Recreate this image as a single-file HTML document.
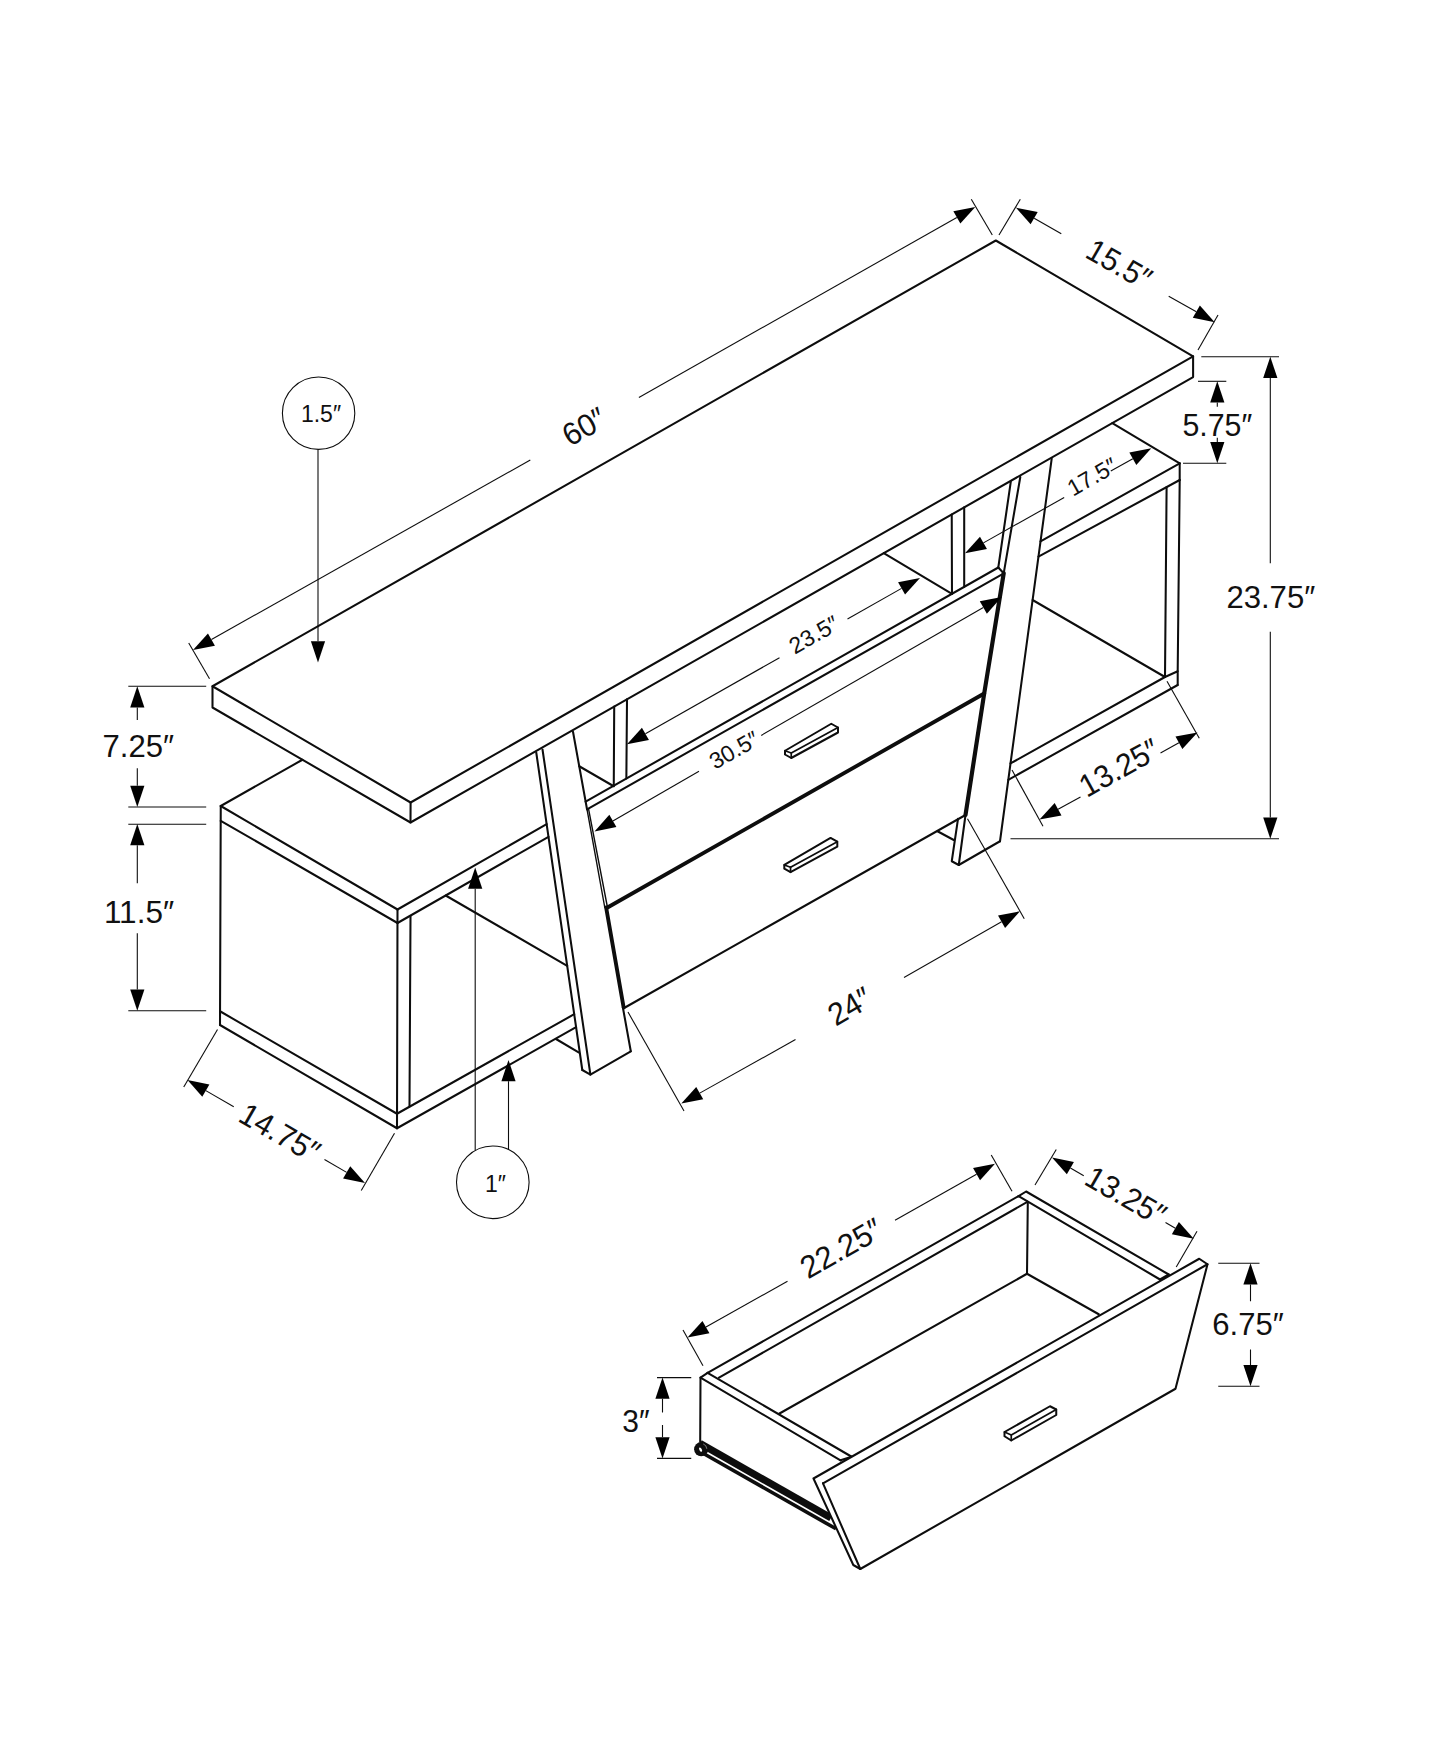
<!DOCTYPE html>
<html><head><meta charset="utf-8"><title>Dimensions</title>
<style>
html,body{margin:0;padding:0;background:#fff;}
body{width:1445px;height:1755px;overflow:hidden;}
svg{display:block;}
svg text{font-family:"Liberation Sans",sans-serif;fill:#111;stroke:none;}
</style></head><body>
<svg width="1445" height="1755" viewBox="0 0 1445 1755" fill="none" stroke="#0d0d0d">
<rect x="0" y="0" width="1445" height="1755" fill="#fff" stroke="none"/>
<path d="M212.5 686.25 L995.8 240.5 L1193.1 356.3 L410.6 802.5 Z" stroke-width="2.05" stroke-linejoin="round" stroke-linecap="round"/>
<path d="M212.5 686.25 L212.5 707.5 L410.5 822.5 L1193.1 377.1 L1193.1 356.3" stroke-width="2.05" stroke-linejoin="round" stroke-linecap="round"/>
<line x1="410.6" y1="802.5" x2="410.5" y2="822.5" stroke-width="2.05" stroke-linecap="round"/>
<line x1="536.25" y1="752.5" x2="582.3" y2="1070" stroke-width="2.05" stroke-linecap="round"/>
<line x1="542.5" y1="749.5" x2="590.4" y2="1074.6" stroke-width="2.05" stroke-linecap="round"/>
<path d="M582.3 1070 L590.4 1074.6 L630.8 1051.3" stroke-width="2.05" stroke-linejoin="round" stroke-linecap="round"/>
<line x1="220.75" y1="806" x2="302.45" y2="759.74" stroke-width="2.05" stroke-linecap="round"/>
<line x1="220.75" y1="806" x2="397.5" y2="909.5" stroke-width="2.05" stroke-linecap="round"/>
<line x1="220.75" y1="820.8" x2="397.5" y2="923" stroke-width="2.05" stroke-linecap="round"/>
<line x1="220.75" y1="806" x2="220" y2="1025" stroke-width="2.05" stroke-linecap="round"/>
<line x1="220" y1="1011.25" x2="397" y2="1113.75" stroke-width="2.05" stroke-linecap="round"/>
<line x1="220" y1="1025" x2="397" y2="1128.25" stroke-width="2.05" stroke-linecap="round"/>
<line x1="397.5" y1="909.5" x2="397" y2="1128.25" stroke-width="2.05" stroke-linecap="round"/>
<line x1="397.5" y1="909.5" x2="546.64" y2="824.13" stroke-width="2.05" stroke-linecap="round"/>
<line x1="397.5" y1="923" x2="548.48" y2="836.84" stroke-width="2.05" stroke-linecap="round"/>
<line x1="410.5" y1="916" x2="409.5" y2="1106.5" stroke-width="2.05" stroke-linecap="round"/>
<line x1="445.7" y1="895.5" x2="567.19" y2="965.8" stroke-width="2.05" stroke-linecap="round"/>
<line x1="397" y1="1113.75" x2="574.21" y2="1014.21" stroke-width="2.05" stroke-linecap="round"/>
<line x1="397" y1="1128.25" x2="576.08" y2="1027.14" stroke-width="2.05" stroke-linecap="round"/>
<line x1="556" y1="1039" x2="578.6" y2="1052.3" stroke-width="2.05" stroke-linecap="round"/>
<line x1="585.65" y1="801.67" x2="998.3" y2="567.5" stroke-width="2.05" stroke-linecap="round"/>
<line x1="587.03" y1="809.3" x2="1002.5" y2="574.2" stroke-width="2.05" stroke-linecap="round"/>
<line x1="998.3" y1="567.5" x2="1003.7" y2="573.3" stroke-width="2.05" stroke-linecap="round"/>
<line x1="607.5" y1="907.5" x2="984.2" y2="693.5" stroke-width="3.8" stroke-linecap="round"/>
<line x1="625" y1="1007.5" x2="965.5" y2="815" stroke-width="2.05" stroke-linecap="round"/>
<line x1="573" y1="731.75" x2="587.03" y2="809.3" stroke-width="2.05" stroke-linecap="round"/>
<line x1="587.03" y1="809.3" x2="604.79" y2="907.5" stroke-width="1.4" stroke-linecap="round"/>
<line x1="588.63" y1="809.3" x2="607.5" y2="907.5" stroke-width="1.4" stroke-linecap="round"/>
<line x1="606.14" y1="907.5" x2="623.64" y2="1007.5" stroke-width="3.9" stroke-linecap="round"/>
<line x1="622.88" y1="1007.5" x2="630.8" y2="1051.3" stroke-width="2.05" stroke-linecap="round"/>
<path d="M1003.7 573.3 L984.2 693.5 L965.5 815" stroke-width="4.2" stroke-linejoin="round" stroke-linecap="round"/>
<line x1="1010.8" y1="481.7" x2="998.3" y2="567.5" stroke-width="2.05" stroke-linecap="round"/>
<line x1="1020.3" y1="477" x2="1003.7" y2="573.3" stroke-width="2.05" stroke-linecap="round"/>
<line x1="1051.7" y1="458.7" x2="1000" y2="841.25" stroke-width="2.05" stroke-linecap="round"/>
<line x1="965.5" y1="815" x2="958.75" y2="865" stroke-width="2.05" stroke-linecap="round"/>
<path d="M958 818.9 L951.75 861.25 L958.75 865 L1000 841.25" stroke-width="2.05" stroke-linejoin="round" stroke-linecap="round"/>
<line x1="937.5" y1="831.25" x2="953.75" y2="840" stroke-width="2.05" stroke-linecap="round"/>
<line x1="614.21" y1="706.56" x2="613.77" y2="785.71" stroke-width="2.05" stroke-linecap="round"/>
<line x1="627.01" y1="699.28" x2="626.35" y2="778.57" stroke-width="2.05" stroke-linecap="round"/>
<line x1="579.24" y1="766.25" x2="613.77" y2="786.26" stroke-width="2.05" stroke-linecap="round"/>
<line x1="951.74" y1="514.46" x2="951.98" y2="593.78" stroke-width="2.05" stroke-linecap="round"/>
<line x1="964.2" y1="507.37" x2="964.2" y2="586.85" stroke-width="2.05" stroke-linecap="round"/>
<line x1="883.75" y1="553.16" x2="951.98" y2="593.94" stroke-width="2.05" stroke-linecap="round"/>
<line x1="1112.3" y1="423.09" x2="1179.7" y2="463.3" stroke-width="2.05" stroke-linecap="round"/>
<line x1="1179.7" y1="463.3" x2="1179.7" y2="480" stroke-width="2.05" stroke-linecap="round"/>
<line x1="1179.7" y1="463.3" x2="1040.52" y2="541.41" stroke-width="2.05" stroke-linecap="round"/>
<line x1="1179.7" y1="480" x2="1038.47" y2="556.61" stroke-width="2.05" stroke-linecap="round"/>
<line x1="1179.7" y1="480" x2="1177.7" y2="671.25" stroke-width="2.05" stroke-linecap="round"/>
<line x1="1166.6" y1="487.11" x2="1165" y2="677" stroke-width="2.05" stroke-linecap="round"/>
<path d="M1165 677 L1177.7 671.25 L1177.7 685" stroke-width="2.05" stroke-linejoin="round" stroke-linecap="round"/>
<line x1="1165" y1="677" x2="1010.51" y2="763.46" stroke-width="2.05" stroke-linecap="round"/>
<line x1="1177.7" y1="685" x2="1008.3" y2="779.83" stroke-width="2.05" stroke-linecap="round"/>
<line x1="1032.6" y1="600" x2="1165" y2="677" stroke-width="2.05" stroke-linecap="round"/>
<path d="M785 750.75 L831.25 723.75 L838 727.5 L838 732.5 L791.25 758 L785 754.5 Z" stroke-width="2" stroke-linejoin="round" stroke-linecap="round"/>
<path d="M785 750.75 L791.25 753 L838 727.5" stroke-width="1.7" stroke-linejoin="round" stroke-linecap="round"/>
<line x1="791.25" y1="753" x2="791.25" y2="758" stroke-width="1.7" stroke-linecap="round"/>
<path d="M784.3 864.95 L830.55 837.95 L837.3 841.7 L837.3 846.7 L790.55 872.2 L784.3 868.7 Z" stroke-width="2" stroke-linejoin="round" stroke-linecap="round"/>
<path d="M784.3 864.95 L790.55 867.2 L837.3 841.7" stroke-width="1.7" stroke-linejoin="round" stroke-linecap="round"/>
<line x1="790.55" y1="867.2" x2="790.55" y2="872.2" stroke-width="1.7" stroke-linecap="round"/>
<polygon points="193,650 207.95,633.38 214.95,645.73" fill="#000" stroke="none"/>
<polygon points="975.3,207 960.35,223.62 953.35,211.27" fill="#000" stroke="none"/>
<line x1="211.45" y1="639.55" x2="530.3" y2="460" stroke-width="1.1" stroke-linecap="butt"/>
<line x1="638.9" y1="397.6" x2="956.85" y2="217.45" stroke-width="1.1" stroke-linecap="butt"/>
<line x1="188.75" y1="643" x2="209.5" y2="678.75" stroke-width="1.1" stroke-linecap="butt"/>
<line x1="971.3" y1="199.3" x2="992.3" y2="235" stroke-width="1.1" stroke-linecap="butt"/>
<text x="584" y="437.48" font-size="31.5" text-anchor="middle" textLength="44.6" lengthAdjust="spacingAndGlyphs" transform="rotate(-29.5 584 426.3)">60″</text>
<polygon points="1015.8,207.6 1037.71,212.04 1030.62,224.34" fill="#000" stroke="none"/>
<polygon points="1214.7,322.3 1192.79,317.86 1199.88,305.56" fill="#000" stroke="none"/>
<line x1="1034.17" y1="218.19" x2="1061.3" y2="233.8" stroke-width="1.1" stroke-linecap="butt"/>
<line x1="1168.7" y1="296.2" x2="1196.33" y2="311.71" stroke-width="1.1" stroke-linecap="butt"/>
<line x1="1020.3" y1="199.3" x2="999" y2="235" stroke-width="1.1" stroke-linecap="butt"/>
<line x1="1218" y1="315" x2="1198" y2="350" stroke-width="1.1" stroke-linecap="butt"/>
<text x="1119.3" y="275.18" font-size="31.5" text-anchor="middle" textLength="69" lengthAdjust="spacingAndGlyphs" transform="rotate(30 1119.3 264)">15.5″</text>
<circle cx="318.6" cy="413.2" r="36.2" stroke-width="1.1"/>
<text x="321" y="422.17" font-size="23" text-anchor="middle">1.5″</text>
<polygon points="318,662.5 310.9,641.3 325.1,641.3" fill="#000" stroke="none"/>
<line x1="318" y1="449.4" x2="318" y2="641.3" stroke-width="1.1" stroke-linecap="butt"/>
<circle cx="492.8" cy="1182.3" r="36.3" stroke-width="1.1"/>
<text x="495.5" y="1191.66" font-size="23" text-anchor="middle">1″</text>
<polygon points="475.2,867.5 482.3,888.7 468.1,888.7" fill="#000" stroke="none"/>
<line x1="475.2" y1="888.7" x2="475.2" y2="1150.5" stroke-width="1.1" stroke-linecap="butt"/>
<polygon points="508.5,1060 515.6,1081.2 501.4,1081.2" fill="#000" stroke="none"/>
<line x1="508.5" y1="1081.2" x2="508.5" y2="1149.8" stroke-width="1.1" stroke-linecap="butt"/>
<line x1="128.3" y1="686.3" x2="206.2" y2="686.3" stroke-width="1.1" stroke-linecap="butt"/>
<line x1="128.3" y1="807" x2="206.2" y2="807" stroke-width="1.1" stroke-linecap="butt"/>
<line x1="128.3" y1="824.2" x2="206.2" y2="824.2" stroke-width="1.1" stroke-linecap="butt"/>
<line x1="128.3" y1="1010.8" x2="206.2" y2="1010.8" stroke-width="1.1" stroke-linecap="butt"/>
<polygon points="137.3,686.2 144.4,707.4 130.2,707.4" fill="#000" stroke="none"/>
<line x1="137.3" y1="707.4" x2="137.3" y2="720" stroke-width="1.1" stroke-linecap="butt"/>
<polygon points="137.3,807 130.2,785.8 144.4,785.8" fill="#000" stroke="none"/>
<line x1="137.3" y1="768.3" x2="137.3" y2="785.8" stroke-width="1.1" stroke-linecap="butt"/>
<text x="138.3" y="756.98" font-size="31.5" text-anchor="middle" textLength="71.5" lengthAdjust="spacingAndGlyphs">7.25″</text>
<polygon points="137.3,824.1 144.4,845.3 130.2,845.3" fill="#000" stroke="none"/>
<line x1="137.3" y1="845.3" x2="137.3" y2="883.3" stroke-width="1.1" stroke-linecap="butt"/>
<polygon points="137.3,1010.8 130.2,989.6 144.4,989.6" fill="#000" stroke="none"/>
<line x1="137.3" y1="933.3" x2="137.3" y2="989.6" stroke-width="1.1" stroke-linecap="butt"/>
<text x="139" y="922.68" font-size="31.5" text-anchor="middle">11.5″</text>
<polygon points="187.5,1080 209.4,1084.5 202.27,1096.78" fill="#000" stroke="none"/>
<polygon points="365,1183 343.1,1178.5 350.23,1166.22" fill="#000" stroke="none"/>
<line x1="205.84" y1="1090.64" x2="233.75" y2="1106.8" stroke-width="1.1" stroke-linecap="butt"/>
<line x1="324.5" y1="1159.5" x2="346.66" y2="1172.36" stroke-width="1.1" stroke-linecap="butt"/>
<line x1="217.5" y1="1029.5" x2="183.75" y2="1087" stroke-width="1.1" stroke-linecap="butt"/>
<line x1="394.5" y1="1133.25" x2="361.25" y2="1190.5" stroke-width="1.1" stroke-linecap="butt"/>
<text x="280" y="1143.68" font-size="31.5" text-anchor="middle" textLength="87" lengthAdjust="spacingAndGlyphs" transform="rotate(30 280 1132.5)">14.75″</text>
<polygon points="681.3,1103.6 696.23,1086.96 703.24,1099.3" fill="#000" stroke="none"/>
<polygon points="1020,911.25 1005.07,927.89 998.06,915.55" fill="#000" stroke="none"/>
<line x1="699.73" y1="1093.13" x2="795.5" y2="1039.5" stroke-width="1.1" stroke-linecap="butt"/>
<line x1="904" y1="977.5" x2="1001.57" y2="921.72" stroke-width="1.1" stroke-linecap="butt"/>
<line x1="628" y1="1012" x2="684" y2="1111" stroke-width="1.1" stroke-linecap="butt"/>
<line x1="967.5" y1="818.75" x2="1024.25" y2="918.75" stroke-width="1.1" stroke-linecap="butt"/>
<text x="849.5" y="1017.18" font-size="31.5" text-anchor="middle" textLength="44.6" lengthAdjust="spacingAndGlyphs" transform="rotate(-29.8 849.5 1006)">24″</text>
<polygon points="1039.5,819.5 1054.65,803.05 1061.5,815.49" fill="#000" stroke="none"/>
<polygon points="1197.5,732.5 1182.35,748.95 1175.5,736.51" fill="#000" stroke="none"/>
<line x1="1058.07" y1="809.27" x2="1080.5" y2="796.9" stroke-width="1.1" stroke-linecap="butt"/>
<line x1="1160.5" y1="752.9" x2="1178.93" y2="742.73" stroke-width="1.1" stroke-linecap="butt"/>
<line x1="1012" y1="770" x2="1043" y2="826.25" stroke-width="1.1" stroke-linecap="butt"/>
<line x1="1167" y1="681.25" x2="1199.25" y2="738.25" stroke-width="1.1" stroke-linecap="butt"/>
<text x="1119" y="778.48" font-size="31.5" text-anchor="middle" textLength="86" lengthAdjust="spacingAndGlyphs" transform="rotate(-29 1119 767.3)">13.25″</text>
<line x1="1201.3" y1="356.7" x2="1279" y2="356.7" stroke-width="1.1" stroke-linecap="butt"/>
<line x1="1010.5" y1="838.8" x2="1279" y2="838.8" stroke-width="1.1" stroke-linecap="butt"/>
<polygon points="1270.3,356.7 1277.4,377.9 1263.2,377.9" fill="#000" stroke="none"/>
<line x1="1270.3" y1="377.9" x2="1270.3" y2="563.3" stroke-width="1.1" stroke-linecap="butt"/>
<polygon points="1270.3,838.8 1263.2,817.6 1277.4,817.6" fill="#000" stroke="none"/>
<line x1="1270.3" y1="631.7" x2="1270.3" y2="817.6" stroke-width="1.1" stroke-linecap="butt"/>
<text x="1270.8" y="607.98" font-size="31.5" text-anchor="middle" textLength="88.8" lengthAdjust="spacingAndGlyphs">23.75″</text>
<line x1="1198" y1="381.3" x2="1226.3" y2="381.3" stroke-width="1.1" stroke-linecap="butt"/>
<line x1="1183" y1="463.3" x2="1226.3" y2="463.3" stroke-width="1.1" stroke-linecap="butt"/>
<polygon points="1217.3,381.3 1224.4,402.5 1210.2,402.5" fill="#000" stroke="none"/>
<line x1="1217.3" y1="402.5" x2="1217.3" y2="406.7" stroke-width="1.1" stroke-linecap="butt"/>
<polygon points="1217.3,463.3 1210.2,442.1 1224.4,442.1" fill="#000" stroke="none"/>
<line x1="1217.3" y1="437.8" x2="1217.3" y2="442.1" stroke-width="1.1" stroke-linecap="butt"/>
<text x="1217.3" y="436.18" font-size="31.5" text-anchor="middle" textLength="69.8" lengthAdjust="spacingAndGlyphs">5.75″</text>
<polygon points="965,553.3 979.98,536.71 986.95,549.08" fill="#000" stroke="none"/>
<polygon points="1151.3,448.3 1136.32,464.89 1129.35,452.52" fill="#000" stroke="none"/>
<line x1="983.47" y1="542.89" x2="1064.2" y2="497.5" stroke-width="1.1" stroke-linecap="butt"/>
<line x1="1110.8" y1="471" x2="1132.83" y2="458.71" stroke-width="1.1" stroke-linecap="butt"/>
<text x="1092" y="484.67" font-size="23" text-anchor="middle" transform="rotate(-29.5 1092 476.5)">17.5″</text>
<polygon points="627,744.3 641.93,727.66 648.94,740" fill="#000" stroke="none"/>
<polygon points="920,577.9 905.07,594.54 898.06,582.2" fill="#000" stroke="none"/>
<line x1="645.43" y1="733.83" x2="779.5" y2="657.7" stroke-width="1.1" stroke-linecap="butt"/>
<line x1="847.5" y1="619.1" x2="901.57" y2="588.37" stroke-width="1.1" stroke-linecap="butt"/>
<text x="813.75" y="642.66" font-size="23" text-anchor="middle" transform="rotate(-29.5 813.75 634.5)">23.5″</text>
<polygon points="594.5,831.5 609.33,814.76 616.41,827.07" fill="#000" stroke="none"/>
<polygon points="1001.7,596.9 986.87,613.64 979.79,601.33" fill="#000" stroke="none"/>
<line x1="612.87" y1="820.92" x2="699" y2="771.3" stroke-width="1.1" stroke-linecap="butt"/>
<line x1="761.25" y1="735.4" x2="983.33" y2="607.48" stroke-width="1.1" stroke-linecap="butt"/>
<text x="734" y="757.96" font-size="23" text-anchor="middle" transform="rotate(-29.5 734 749.8)">30.5″</text>
<line x1="707.6" y1="1372.8" x2="1018.6" y2="1196.1" stroke-width="2.05" stroke-linecap="round"/>
<line x1="719" y1="1377.6" x2="1027.8" y2="1201.7" stroke-width="2.05" stroke-linecap="round"/>
<path d="M1018.6 1196.1 L1026.1 1191.5 L1168.75 1274.5" stroke-width="2.05" stroke-linejoin="round" stroke-linecap="round"/>
<line x1="1018.6" y1="1196.1" x2="1160" y2="1279.5" stroke-width="2.05" stroke-linecap="round"/>
<line x1="1160" y1="1279.5" x2="1168.75" y2="1274.5" stroke-width="2.05" stroke-linecap="round"/>
<line x1="707.6" y1="1372.8" x2="851.65" y2="1456.76" stroke-width="2.05" stroke-linecap="round"/>
<line x1="700.5" y1="1377.6" x2="840.5" y2="1460.3" stroke-width="2.05" stroke-linecap="round"/>
<line x1="840.5" y1="1460.3" x2="851.65" y2="1456.76" stroke-width="2.05" stroke-linecap="round"/>
<path d="M707.6 1372.8 L700.5 1377.6 L700.2 1442" stroke-width="2.05" stroke-linejoin="round" stroke-linecap="round"/>
<line x1="779.5" y1="1413.5" x2="1027" y2="1273.75" stroke-width="2.05" stroke-linecap="round"/>
<line x1="1027.8" y1="1201.7" x2="1027" y2="1273.75" stroke-width="2.05" stroke-linecap="round"/>
<line x1="1027" y1="1273.75" x2="1098.75" y2="1314.25" stroke-width="2.05" stroke-linecap="round"/>
<line x1="700" y1="1443.4" x2="831" y2="1517.9" stroke-width="7.1" stroke-linecap="butt"/>
<line x1="703" y1="1453.3" x2="836" y2="1528.8" stroke-width="3.6" stroke-linecap="butt"/>
<polygon points="813.5,1478.5 1199.25,1258.75 1207.5,1264.25 1175.5,1388.75 860.3,1569 853.3,1565" fill="#fff" stroke="none"/>
<circle cx="701.2" cy="1449.2" r="7.1" fill="#0d0d0d" stroke="none"/>
<ellipse cx="700.6" cy="1449.6" rx="1.2" ry="2.3" fill="#fff" stroke="none" transform="rotate(-28 700.6 1449.6)"/>
<path d="M703.2 1443.9 A5.6 5.6 0 0 1 706.8 1448.8" stroke="#aaa" stroke-width="0.7"/>
<path d="M813.5 1478.5 L1199.25 1258.75 L1207.5 1264.25 L1175.5 1388.75 L860.3 1569 L853.3 1565 L813.5 1478.5" stroke-width="2.05" stroke-linejoin="round" stroke-linecap="round"/>
<line x1="823" y1="1483.3" x2="1207.5" y2="1264.25" stroke-width="2.05" stroke-linecap="round"/>
<line x1="823" y1="1483.3" x2="860.3" y2="1569" stroke-width="2.05" stroke-linecap="round"/>
<path d="M1004.5 1432 L1050 1406.25 L1056.25 1409.5 L1056.25 1415 L1011.25 1440.5 L1004.5 1436.25 Z" stroke-width="2" stroke-linejoin="round" stroke-linecap="round"/>
<path d="M1004.5 1432 L1011.25 1435 L1056.25 1409.5" stroke-width="1.7" stroke-linejoin="round" stroke-linecap="round"/>
<line x1="1011.25" y1="1435" x2="1011.25" y2="1440.5" stroke-width="1.7" stroke-linecap="round"/>
<polygon points="687.5,1337.5 702.46,1320.89 709.45,1333.25" fill="#000" stroke="none"/>
<polygon points="995,1163.75 980.04,1180.36 973.05,1168" fill="#000" stroke="none"/>
<line x1="705.96" y1="1327.07" x2="787.5" y2="1281.3" stroke-width="1.1" stroke-linecap="butt"/>
<line x1="895" y1="1220.3" x2="976.54" y2="1174.18" stroke-width="1.1" stroke-linecap="butt"/>
<line x1="683" y1="1330" x2="703" y2="1365.75" stroke-width="1.1" stroke-linecap="butt"/>
<line x1="991.25" y1="1155" x2="1012" y2="1191.25" stroke-width="1.1" stroke-linecap="butt"/>
<text x="841" y="1259.18" font-size="31.5" text-anchor="middle" textLength="88.5" lengthAdjust="spacingAndGlyphs" transform="rotate(-29.5 841 1248)">22.25″</text>
<polygon points="1052,1157.5 1073.92,1161.88 1066.86,1174.2" fill="#000" stroke="none"/>
<polygon points="1193.75,1238.75 1171.83,1234.37 1178.89,1222.05" fill="#000" stroke="none"/>
<line x1="1070.39" y1="1168.04" x2="1083.75" y2="1175.7" stroke-width="1.1" stroke-linecap="butt"/>
<line x1="1165.5" y1="1222.6" x2="1175.36" y2="1228.21" stroke-width="1.1" stroke-linecap="butt"/>
<line x1="1056.25" y1="1149.5" x2="1035" y2="1185" stroke-width="1.1" stroke-linecap="butt"/>
<line x1="1197" y1="1231.25" x2="1176.25" y2="1267" stroke-width="1.1" stroke-linecap="butt"/>
<text x="1126" y="1206.68" font-size="31.5" text-anchor="middle" textLength="87" lengthAdjust="spacingAndGlyphs" transform="rotate(30 1126 1195.5)">13.25″</text>
<line x1="1218.25" y1="1263.25" x2="1259.5" y2="1263.25" stroke-width="1.1" stroke-linecap="butt"/>
<line x1="1218.25" y1="1386.25" x2="1259.5" y2="1386.25" stroke-width="1.1" stroke-linecap="butt"/>
<polygon points="1250.5,1263.25 1257.6,1284.45 1243.4,1284.45" fill="#000" stroke="none"/>
<line x1="1250.5" y1="1284.45" x2="1250.5" y2="1301.25" stroke-width="1.1" stroke-linecap="butt"/>
<polygon points="1250.5,1386.25 1243.4,1365.05 1257.6,1365.05" fill="#000" stroke="none"/>
<line x1="1250.5" y1="1349.5" x2="1250.5" y2="1365.05" stroke-width="1.1" stroke-linecap="butt"/>
<text x="1248" y="1334.68" font-size="31.5" text-anchor="middle" textLength="71.5" lengthAdjust="spacingAndGlyphs">6.75″</text>
<line x1="657" y1="1377.6" x2="691.25" y2="1377.6" stroke-width="1.1" stroke-linecap="butt"/>
<line x1="657" y1="1458.4" x2="691.25" y2="1458.4" stroke-width="1.1" stroke-linecap="butt"/>
<polygon points="662.5,1377.6 669.6,1398.8 655.4,1398.8" fill="#000" stroke="none"/>
<line x1="662.5" y1="1398.8" x2="662.5" y2="1412.5" stroke-width="1.1" stroke-linecap="butt"/>
<polygon points="662.5,1458.4 655.4,1437.2 669.6,1437.2" fill="#000" stroke="none"/>
<line x1="662.5" y1="1425" x2="662.5" y2="1437.2" stroke-width="1.1" stroke-linecap="butt"/>
<text x="636" y="1431.68" font-size="31.5" text-anchor="middle" textLength="27.3" lengthAdjust="spacingAndGlyphs">3″</text>
</svg>
</body></html>
